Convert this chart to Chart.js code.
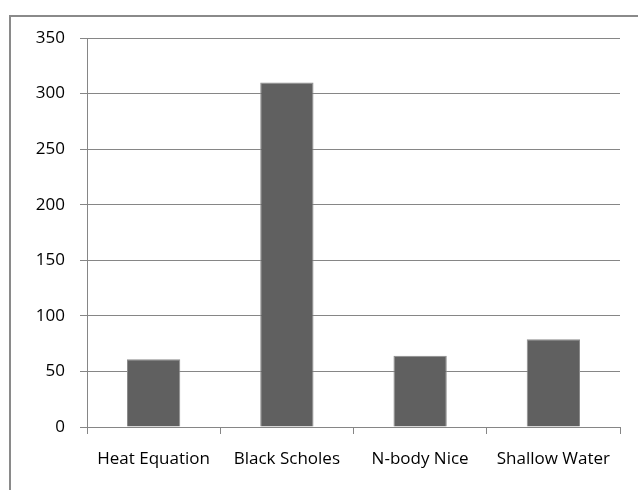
<!DOCTYPE html>
<html>
<head>
<meta charset="utf-8">
<script src="https://cdn.jsdelivr.net/npm/chart.js@4.4.0/dist/chart.umd.min.js"></script>
<style>
  html, body { margin: 0; padding: 0; background: #fff; overflow: hidden; }
  #frame { position: absolute; left: 9px; top: 15px; width: 700px; height: 600px; border: 2px solid #8a8a8a; }
  #wrap { position: absolute; left: 0; top: 0; width: 638px; height: 490px; }
</style>
</head>
<body>
<div id="frame"></div>
<div id="wrap"><canvas id="chart" width="638" height="490"></canvas></div>
<script>
var categories = ["Heat Equation", "Black Scholes", "N-body Nice", "Shallow Water"];
var values = [61, 310, 64, 79];
var yTicks = [0, 50, 100, 150, 200, 250, 300, 350];

document.addEventListener('DOMContentLoaded', function () {
    makeBarChart();
});

function makeBarChart() {
    var canvas = document.getElementById("chart");
    var axisGray = '#868686';
    new Chart(canvas, {
        type: 'bar',
        data: {
            labels: categories,
            datasets: [{
                data: values,
                backgroundColor: '#606060',
                borderColor: '#8c8c8c',
                borderWidth: 1,
                categoryPercentage: 1.0,
                barPercentage: 0.4
            }]
        },
        options: {
            responsive: false,
            animation: false,
            maintainAspectRatio: false,
            layout: { padding: { top: 38, right: 18, left: 0, bottom: 0 } },
            plugins: { legend: { display: false }, tooltip: { enabled: false } },
            scales: {
                x: {
                    afterFit: function (s) { s.height = 63; },
                    grid: { drawOnChartArea: false, drawTicks: true, tickLength: 7, color: axisGray, offset: true },
                    border: { color: axisGray, width: 1 },
                    ticks: { color: '#000', padding: 15, maxRotation: 0, font: { family: 'Open Sans', size: 17 } }
                },
                y: {
                    min: 0,
                    max: 350,
                    afterFit: function (s) { s.width = 87; },
                    afterBuildTicks: function (s) { s.ticks = yTicks.map(function (v) { return { value: v }; }); },
                    grid: { color: axisGray, tickLength: 7 },
                    border: { color: axisGray, width: 1 },
                    ticks: { color: '#000', padding: 15, font: { family: 'Open Sans', size: 17 } }
                }
            }
        }
    });
}
</script>
</body>
</html>
